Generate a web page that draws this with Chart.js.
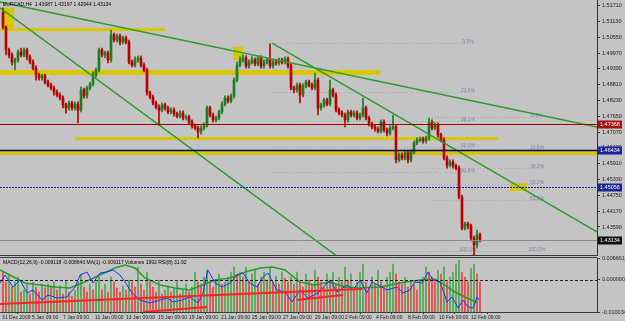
<!DOCTYPE html>
<html>
<head>
<meta charset="utf-8">
<script src="https://cdn.jsdelivr.net/npm/chart.js@4.4.0/dist/chart.umd.min.js"></script>
<style>
  html, body { margin: 0; padding: 0; background: #c4c4c4; }
  #wrap { position: relative; width: 625px; height: 321px; overflow: hidden; }
  #priceChart { position: absolute; left: 0; top: 0; }
  #macdChart { position: absolute; left: 0; top: 256px; }
</style>
</head>
<body>
<div id="wrap">
  <canvas id="priceChart" width="625" height="256"></canvas>
  <canvas id="macdChart" width="625" height="65"></canvas>
</div>
<script>
// EURCAD bars, oldest first
const firstOpen = 1.5148;
const close = [
  1.5093,1.5009,1.4990,1.4964,1.4972,1.5001,1.4990,1.5009,1.4983,1.4964,
  1.4942,1.4917,1.4906,1.4913,1.4891,1.4880,1.4869,1.4854,1.4843,1.4832,
  1.4807,1.4796,1.4814,1.4796,1.4810,1.4788,1.4862,1.4840,1.4869,1.4884,
  1.4917,1.4935,1.5009,1.4990,1.4998,1.4972,1.5064,1.5045,1.5060,1.5038,
  1.5053,1.5038,1.4964,1.4953,1.4972,1.4979,1.4953,1.4935,1.4851,1.4836,
  1.4814,1.4799,1.4788,1.4807,1.4796,1.4781,1.4788,1.4774,1.4766,1.4777,
  1.4759,1.4763,1.4744,1.4730,1.4722,1.4708,1.4722,1.4733,1.4796,1.4770,
  1.4752,1.4759,1.4781,1.4810,1.4832,1.4821,1.4840,1.4898,1.4953,1.4972,
  1.4979,1.4950,1.4964,1.4972,1.4957,1.4979,1.4950,1.4964,1.4972,1.4950,
  1.4964,1.4961,1.4972,1.4964,1.4976,1.4950,1.4869,1.4862,1.4880,1.4843,
  1.4876,1.4891,1.4880,1.4869,1.4898,1.4796,1.4807,1.4825,1.4810,1.4862,
  1.4843,1.4788,1.4777,1.4770,1.4752,1.4781,1.4770,1.4777,1.4759,1.4770,
  1.4796,1.4759,1.4737,1.4726,1.4719,1.4711,1.4744,1.4715,1.4704,1.4722,
  1.4726,1.4605,1.4623,1.4612,1.4631,1.4605,1.4634,1.4667,1.4678,1.4682,
  1.4675,1.4686,1.4744,1.4722,1.4733,1.4697,1.4678,1.4612,1.4586,1.4597,
  1.4583,1.4575,1.4469,1.4355,1.4370,1.4363,1.4318,1.4293,1.4330,1.4313
];
const high = [
  1.5163,1.5097,1.5016,1.4998,1.4979,1.5009,1.5016,1.5016,1.5016,1.4990,
  1.4972,1.4950,1.4924,1.4920,1.4920,1.4898,1.4887,1.4876,1.4862,1.4851,
  1.4840,1.4814,1.4821,1.4821,1.4818,1.4818,1.4873,1.4869,1.4876,1.4891,
  1.4928,1.4942,1.5016,1.5016,1.5005,1.5005,1.5082,1.5071,1.5067,1.5067,
  1.5060,1.5060,1.5045,1.4972,1.4983,1.4987,1.4987,1.4961,1.4942,1.4858,
  1.4843,1.4821,1.4807,1.4814,1.4814,1.4803,1.4796,1.4796,1.4781,1.4785,
  1.4785,1.4770,1.4770,1.4752,1.4737,1.4730,1.4730,1.4741,1.4803,1.4803,
  1.4777,1.4766,1.4788,1.4818,1.4840,1.4840,1.4847,1.4906,1.4964,1.4983,
  1.4990,1.4987,1.4972,1.4983,1.4979,1.4987,1.4987,1.4972,1.4979,1.5031,
  1.4972,1.4972,1.4979,1.4979,1.4983,1.4983,1.4957,1.4876,1.4887,1.4887,
  1.4884,1.4898,1.4898,1.4887,1.4924,1.4906,1.4814,1.4832,1.4832,1.4898,
  1.4869,1.4851,1.4796,1.4785,1.4777,1.4788,1.4788,1.4785,1.4785,1.4777,
  1.4832,1.4803,1.4766,1.4744,1.4733,1.4726,1.4752,1.4752,1.4722,1.4730,
  1.4770,1.4733,1.4631,1.4631,1.4638,1.4638,1.4642,1.4675,1.4686,1.4689,
  1.4689,1.4693,1.4759,1.4752,1.4741,1.4741,1.4704,1.4686,1.4620,1.4605,
  1.4605,1.4590,1.4583,1.4476,1.4377,1.4377,1.4370,1.4326,1.4348,1.4337
];
const low = [
  1.5086,1.4990,1.4979,1.4953,1.4935,1.4964,1.4983,1.4983,1.4972,1.4957,
  1.4935,1.4898,1.4898,1.4898,1.4884,1.4873,1.4862,1.4843,1.4836,1.4825,
  1.4796,1.4777,1.4788,1.4788,1.4788,1.4741,1.4781,1.4832,1.4832,1.4862,
  1.4876,1.4909,1.4928,1.4983,1.4979,1.4961,1.4964,1.5038,1.5038,1.5027,
  1.5031,1.5031,1.4957,1.4946,1.4946,1.4964,1.4946,1.4928,1.4843,1.4829,
  1.4807,1.4792,1.4733,1.4781,1.4788,1.4774,1.4774,1.4766,1.4759,1.4759,
  1.4752,1.4752,1.4737,1.4722,1.4715,1.4686,1.4700,1.4715,1.4726,1.4763,
  1.4744,1.4744,1.4752,1.4774,1.4803,1.4814,1.4814,1.4832,1.4891,1.4946,
  1.4964,1.4942,1.4942,1.4957,1.4950,1.4950,1.4942,1.4942,1.4957,1.4942,
  1.4942,1.4953,1.4953,1.4957,1.4957,1.4942,1.4862,1.4851,1.4854,1.4814,
  1.4836,1.4869,1.4873,1.4862,1.4862,1.4770,1.4788,1.4799,1.4803,1.4803,
  1.4836,1.4781,1.4770,1.4763,1.4726,1.4744,1.4763,1.4763,1.4752,1.4752,
  1.4763,1.4752,1.4730,1.4719,1.4711,1.4704,1.4704,1.4708,1.4693,1.4697,
  1.4715,1.4594,1.4598,1.4605,1.4605,1.4594,1.4598,1.4627,1.4660,1.4671,
  1.4667,1.4667,1.4678,1.4715,1.4715,1.4689,1.4671,1.4605,1.4575,1.4579,
  1.4575,1.4568,1.4462,1.4348,1.4348,1.4352,1.4308,1.4256,1.4282,1.4304
];
const volume = [
  2000,1500,1900,1250,1500,1750,1000,1100,1400,900,
  1500,1250,1000,1400,1200,1400,1250,1500,1100,1300,
  900,1600,1000,800,1100,1500,1900,1250,1000,1400,
  1100,1500,1750,1100,1400,1000,1750,1500,1200,1000,
  1300,1100,1600,1500,1250,2250,1400,1100,2000,1500,
  1250,1000,1600,900,1100,1300,1000,1200,1500,900,
  1100,1400,1000,1250,2000,1500,1400,1750,2100,1500,
  1250,1600,1900,1400,1500,1750,2000,2250,1900,2000,
  1750,2250,1500,1900,2100,1400,1750,2000,1600,2200,
  1500,1800,1400,2000,1700,1500,1750,1400,2000,1500,
  1250,1900,1600,1400,2100,1750,1500,1250,1900,1600,
  2000,1400,1750,1500,2250,1600,1900,1250,1500,2000,
  2400,1500,1250,1750,1400,2100,1500,1250,1750,2000,
  2400,1900,1500,1400,1750,1250,1500,1400,1100,1600,
  1750,2250,2000,1750,1500,2100,1900,2250,1500,1750,
  2000,2400,2600,2000,1750,1500,2200,2400,1900,1500
];

// MACD main (blue) and signal (green), sparse points: bar index / value
const macdX = [-1,0.7,3.3,5.7,8,10,13,15,18,21.3,24,25.7,28,30,32.3,34.7,36.7,39,40.7,43,45.7,49,52.3,54.7,56.7,59.7,62.3,65,66.7,68.3,70.7,73,75.7,78,80,82.3,84.7,86.7,88.3,91.3,94,96.3,99,101.7,105,109,111.3,114.7,116.7,119,121.3,123,125,128,131.3,133.3,135.7,137.3,139.7,141.7,143.3,145.7,148,149.7,151.7,153.3,155,156.7,158,158.7];
const macdY = [-0.00107,0.00140,-0.00231,-0.00014,-0.00416,-0.00323,-0.00633,-0.00478,-0.00571,-0.00540,-0.00231,0.00140,0.00233,-0.00107,0.00202,0.00233,0.00295,0.00140,-0.00076,-0.00416,-0.00633,-0.00725,-0.00633,-0.00571,-0.00694,-0.00633,-0.00540,-0.00725,-0.00416,0.00295,-0.00107,-0.00231,-0.00107,0.00140,0.00202,-0.00107,-0.00231,0.00079,0.00202,-0.00323,-0.00385,-0.00694,-0.00323,-0.00571,-0.00416,-0.00014,-0.00385,-0.00169,-0.00323,-0.00014,-0.00416,-0.00076,-0.00169,-0.00323,-0.00231,-0.00416,-0.00323,-0.00076,-0.00107,0.00233,-0.00014,-0.00076,-0.00694,-0.00540,-0.00880,-0.00633,-0.00849,-0.00880,-0.00540,-0.00633];
const signalX = [-1,2.3,7.3,12.3,17.3,22.3,27.3,32.3,37.3,40.7,44,47.3,52.3,57.3,62.3,65.7,70.7,75.7,80.7,85.7,89.7,94,99,104,109,114,119,125.7,132.3,139,144,147.3,150.7,154,158.3];
const signalY = [0.00295,0.00140,-0.00107,-0.00169,-0.00231,-0.00262,-0.00076,0.00140,0.00357,0.00450,0.00357,0.00048,-0.00169,-0.00262,-0.00323,-0.00200,-0.00014,0.00048,0.00233,0.00357,0.00388,0.00295,-0.00076,-0.00169,-0.00076,-0.00231,-0.00262,-0.00231,-0.00107,-0.00014,0.00017,-0.00169,-0.00385,-0.00540,-0.00725];

// indicator trend lines (red)
const redX0 = [-1, 46.7, 98];
const redY0 = [-0.00756, -0.01003, -0.00633];
const redX1 = [119.7, 68, 113.3];
const redY1 = [-0.00292, -0.00849, -0.00478];

// price objects
const trendX0 = [-1, -1, 89.7];
const trendY0 = [1.5185, 1.5163, 1.5034];
const trendX1 = [198, 111.7, 198];
const trendY1 = [1.4726, 1.4249, 1.4341];

const zoneX0 = [0, -1, -1, 76.7, 24, -1, 169];
const zoneX1 = [3.7, 54, 125.7, 80, 165, 198, 174.7];
const zoneTop = [1.5163, 1.5089, 1.4935, 1.5020, 1.4689, 1.4638, 1.4520];
const zoneBot = [1.5089, 1.5078, 1.4917, 1.4972, 1.4678, 1.4623, 1.4491];

const levelPrices = [1.4737, 1.4643, 1.4506, 1.4313];
const levelLabels = ['1.47368', '1.46434', '1.45056', '1.43134'];

const fiboNames = ['0.0', '23.6', '38.2', '50.0', '61.8', '100.0'];
const fiboA = [1.5034, 1.4854, 1.4748, 1.4652, 1.4561, 1.4271];
const fiboB = [1.4763, 1.4645, 1.4575, 1.4517, 1.4458, 1.4271];

const priceTicks = [1.5171,1.5113,1.5055,1.4997,1.4939,1.4881,1.4823,1.4765,1.4707,1.4649,1.4591,1.4533,1.4475,1.4417,1.4359];
const macdTicks = [0.006661, 0, -0.010034];
const dateTickIdx = [-0.3, 9.7, 20, 30.7, 41, 51.7, 62, 72.7, 83, 93.3, 104, 114, 124.3, 135, 145.3, 156];
const dateLabels = ['31 Dec 2009','5 Jan 09:00','7 Jan 09:00','11 Jan 09:00','13 Jan 09:00','15 Jan 09:00','19 Jan 09:00','21 Jan 09:00','25 Jan 09:00','27 Jan 09:00','29 Jan 09:00','2 Feb 09:00','4 Feb 09:00','8 Feb 09:00','10 Feb 09:00','12 Feb 09:00'];

const titleText = 'EURCAD,H4  1.43087 1.43197 1.42944 1.43134';
const macdText = 'MACD(12,26,9) -0.009118 -0.008640 MA(1) -0.009117 Volumes 1992 RSI(8) 31.92';

const FONT = 'Liberation Sans';
const bull = '#1d7d1d';
const bear = '#b80000';

const open = [firstOpen].concat(close.slice(0, -1));
const idx = close.map((_, i) => i);

const axisFit = (s) => { s.width = 28; s.paddingTop = 0; s.paddingBottom = 0; };

const priceOverlay = {
  id: 'priceOverlay',
  beforeDatasetsDraw(chart) {
    const { ctx, chartArea: a, scales: { x, y } } = chart;
    ctx.save();
    ctx.beginPath();
    ctx.rect(a.left, a.top, a.width, a.height);
    ctx.clip();
    ctx.fillStyle = '#d9c700';
    zoneX0.forEach((x0, i) => {
      const l = x.getPixelForValue(x0), r = x.getPixelForValue(zoneX1[i]);
      const t = y.getPixelForValue(zoneTop[i]), b = y.getPixelForValue(zoneBot[i]);
      ctx.fillRect(l, t, r - l, b - t);
    });
    ctx.strokeStyle = '#a4a4a4';
    ctx.lineWidth = 1;
    ctx.setLineDash([1, 2]);
    ctx.font = '5px ' + FONT;
    ctx.fillStyle = '#8282a8';
    ctx.textAlign = 'center';
    const fib = (levels, x0, x1, xl) => {
      levels.forEach((v, i) => {
        const py = Math.round(y.getPixelForValue(v)) + 0.5;
        ctx.beginPath();
        ctx.moveTo(x.getPixelForValue(x0), py);
        ctx.lineTo(x.getPixelForValue(x1), py);
        ctx.stroke();
        ctx.fillText(fiboNames[i] + '%', x.getPixelForValue(xl), py - 1);
      });
    };
    fib(fiboA, 89.7, 157, 155);
    fib(fiboB, 142, 180, 178);
    ctx.restore();
  },
  afterDraw(chart) {
    const { ctx, chartArea: a, scales: { y } } = chart;
    const lineColors = ['#a00000', '#00006e', '#20209a', '#8a8a8a'];
    const dashes = [[], [], [2, 1], []];
    const widths = [1.2, 1.5, 1, 1];
    ctx.save();
    levelPrices.forEach((v, i) => {
      const py = Math.round(y.getPixelForValue(v)) + 0.5;
      ctx.strokeStyle = lineColors[i];
      ctx.lineWidth = widths[i];
      ctx.setLineDash(dashes[i]);
      ctx.beginPath();
      ctx.moveTo(a.left, py);
      ctx.lineTo(a.right, py);
      ctx.stroke();
    });
    ctx.setLineDash([]);
    const boxColors = ['#a81010', '#1c2496', '#1c2496', '#101010'];
    ctx.font = '5.5px ' + FONT;
    ctx.textAlign = 'left';
    ctx.textBaseline = 'middle';
    levelPrices.forEach((v, i) => {
      const py = Math.round(y.getPixelForValue(v));
      ctx.fillStyle = boxColors[i];
      ctx.fillRect(a.right + 1, py - 3.5, 24, 8);
      ctx.fillStyle = '#ffffff';
      ctx.fillText(levelLabels[i], a.right + 3, py + 0.5);
    });
    ctx.strokeStyle = '#3a3a3a';
    ctx.lineWidth = 1;
    ctx.beginPath();
    ctx.moveTo(0, a.bottom + 0.5);
    ctx.lineTo(a.right, a.bottom + 0.5);
    ctx.stroke();
    ctx.fillStyle = '#000';
    ctx.font = '5px ' + FONT;
    ctx.textBaseline = 'alphabetic';
    ctx.fillText(titleText, 3, 6);
    ctx.restore();
  }
};

const macdOverlay = {
  id: 'macdOverlay',
  beforeDatasetsDraw(chart) {
    const { ctx, chartArea: a } = chart;
    ctx.save();
    ctx.strokeStyle = '#3a3a3a';
    ctx.lineWidth = 1;
    ctx.beginPath();
    ctx.moveTo(0, a.top - 0.5);
    ctx.lineTo(a.right, a.top - 0.5);
    ctx.moveTo(0, a.bottom + 0.5);
    ctx.lineTo(a.right, a.bottom + 0.5);
    ctx.stroke();
    ctx.restore();
  },
  afterDatasetsDraw(chart) {
    const { ctx, chartArea: a, scales: { y } } = chart;
    ctx.save();
    const py = Math.round(y.getPixelForValue(0)) + 0.5;
    ctx.strokeStyle = '#202020';
    ctx.setLineDash([3, 2]);
    ctx.beginPath();
    ctx.moveTo(a.left, py);
    ctx.lineTo(a.right, py);
    ctx.stroke();
    ctx.fillStyle = '#000';
    ctx.font = '5px ' + FONT;
    ctx.fillText(macdText, 3, a.top + 6);
    ctx.restore();
  }
};

new Chart(document.getElementById('priceChart').getContext('2d'), {
  type: 'bar',
  data: {
    datasets: [
      ...trendX0.map((x0, i) => ({
        type: 'line',
        data: [{ x: x0, y: trendY0[i] }, { x: trendX1[i], y: trendY1[i] }],
        borderColor: '#2c9c2c',
        borderWidth: 1.5,
        pointRadius: 0,
        order: 0
      })),
      {
        data: idx.map(i => ({ x: i, y: [low[i], high[i]] })),
        backgroundColor: idx.map(i => close[i] >= open[i] ? bull : bear),
        barThickness: 1,
        grouped: false,
        order: 2
      },
      {
        data: idx.map(i => ({ x: i, y: [open[i], close[i]] })),
        backgroundColor: idx.map(i => close[i] >= open[i] ? bull : bear),
        borderWidth: 0,
        barThickness: 2,
        minBarLength: 1,
        grouped: false,
        order: 1
      }
    ]
  },
  options: {
    responsive: false,
    animation: false,
    layout: { padding: { left: 0, right: 0, top: 0, bottom: 1 } },
    plugins: { legend: { display: false }, tooltip: { enabled: false } },
    scales: {
      x: { type: 'linear', min: -1, max: 198, offset: false, display: false },
      y: {
        position: 'right',
        min: 1.42562,
        max: 1.5192,
        afterBuildTicks: (s) => { s.ticks = priceTicks.map(v => ({ value: v })); },
        afterFit: axisFit,
        ticks: { font: { family: FONT, size: 5.5 }, color: '#1a1a1a', padding: 2, callback: (v) => v.toFixed(5) },
        grid: { drawOnChartArea: false, tickLength: 3, color: '#333' },
        border: { color: '#333' }
      }
    }
  },
  plugins: [priceOverlay]
});

new Chart(document.getElementById('macdChart').getContext('2d'), {
  type: 'bar',
  data: {
    datasets: [
      {
        type: 'line',
        data: macdX.map((x, i) => ({ x, y: macdY[i] })),
        borderColor: '#2430ff',
        borderWidth: 1,
        pointRadius: 0,
        order: 1
      },
      {
        type: 'line',
        data: signalX.map((x, i) => ({ x, y: signalY[i] })),
        borderColor: '#2a9a2a',
        borderWidth: 1.5,
        pointRadius: 0,
        order: 1
      },
      ...redX0.map((x0, i) => ({
        type: 'line',
        data: [{ x: x0, y: redY0[i] }, { x: redX1[i], y: redY1[i] }],
        borderColor: '#ff2020',
        borderWidth: 2,
        pointRadius: 0,
        order: 0
      })),
      {
        yAxisID: 'yv',
        data: idx.map(i => ({ x: i, y: volume[i] })),
        backgroundColor: idx.map(i => (i > 0 && volume[i] > volume[i - 1]) ? '#4aa84a' : '#f24040'),
        barThickness: 1,
        grouped: false,
        order: 3
      }
    ]
  },
  options: {
    responsive: false,
    animation: false,
    layout: { padding: { left: 0, right: 0, top: 2, bottom: 0 } },
    plugins: { legend: { display: false }, tooltip: { enabled: false } },
    scales: {
      x: {
        type: 'linear', min: -1, max: 198, offset: false,
        afterBuildTicks: (s) => { s.ticks = dateTickIdx.map(v => ({ value: v })); },
        afterFit: (s) => { s.height = 9; s.paddingLeft = 0; s.paddingRight = 0; },
        ticks: { font: { family: FONT, size: 5 }, color: '#1a1a1a', padding: 1, align: 'start', maxRotation: 0, autoSkip: false, callback: (v, i) => dateLabels[i] },
        grid: { drawOnChartArea: false, tickLength: 2, color: '#333' },
        border: { color: '#333' }
      },
      y: {
        position: 'right',
        min: -0.010034,
        max: 0.006661,
        afterBuildTicks: (s) => { s.ticks = macdTicks.map(v => ({ value: v })); },
        afterFit: axisFit,
        ticks: { font: { family: FONT, size: 5.5 }, color: '#1a1a1a', padding: 2, callback: (v) => v.toFixed(6) },
        grid: { drawOnChartArea: false, tickLength: 3, color: '#333' },
        border: { color: '#333' }
      },
      yv: { display: false, min: 0, max: 2700 }
    }
  },
  plugins: [macdOverlay]
});
</script>
</body>
</html>
